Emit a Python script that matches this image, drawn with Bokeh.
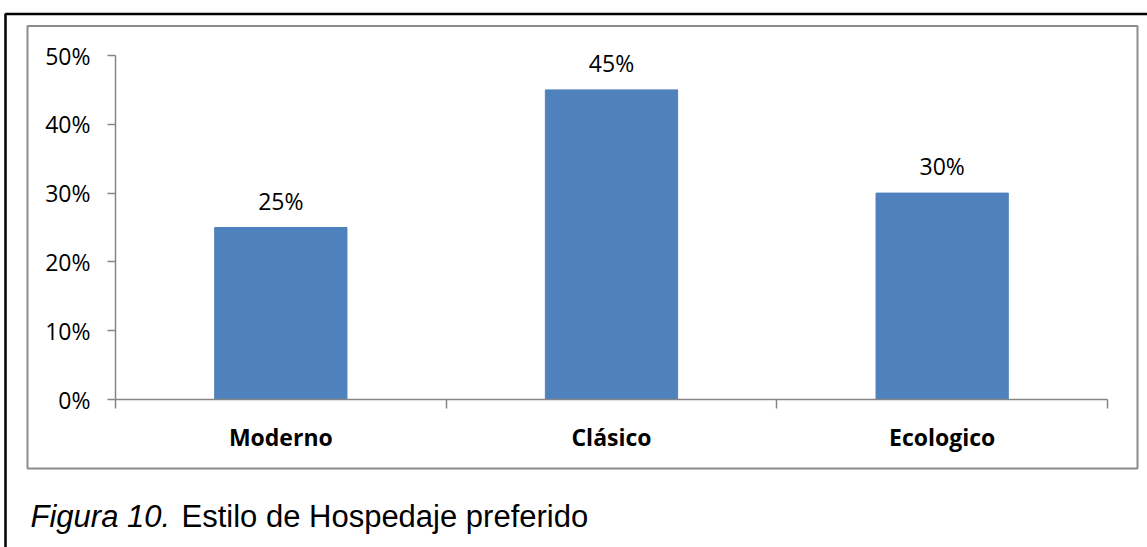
from bokeh.plotting import figure
from bokeh.models import (Range1d, LinearAxis, FixedTicker, NumeralTickFormatter,
                          CustomJSTickFormatter, ColumnDataSource, LabelSet, Label,
                          BoxAnnotation)
from bokeh.core.properties import value
from bokeh.embed import file_html
from bokeh.resources import INLINE

# Datos de la encuesta
estilos = ["Moderno", "Clásico", "Ecologico"]
porcentajes = [0.25, 0.45, 0.30]
etiquetas = ["25%", "45%", "30%"]
marcas_y = [0.0, 0.1, 0.2, 0.3, 0.4, 0.5]

AZUL = "#4F81BD"
GRIS = "#868686"
FUENTE = "Open Sans"

# Lienzo y área de trazado (px)
ANCHO, ALTO = 1147, 547
IZQ, DER, SUP, INF = 115, 1107, 55, 399

n = len(estilos)
centros = [i + 0.5 for i in range(n)]          # centro de cada categoría
ppx = (DER - IZQ) / n
ppy = (INF - SUP) / marcas_y[-1]

src = ColumnDataSource(dict(x=centros, estilo=estilos, valor=porcentajes,
                            etiqueta=etiquetas))

p = figure(width=ANCHO, height=ALTO, title=None,
           x_range=Range1d(-IZQ / ppx, n + (ANCHO - DER) / ppx),
           y_range=Range1d(-(ALTO - INF) / ppy, marcas_y[-1] + SUP / ppy),
           output_backend="svg", toolbar_location=None,
           x_axis_location=None, y_axis_location=None, min_border=0)
p.outline_line_color = None
p.background_fill_color = "white"
p.border_fill_color = "white"
p.grid.visible = False

# Marcos de la figura
p.add_layout(BoxAnnotation(left=5, right=ANCHO + 50, top=13.5, bottom=ALTO + 50,
                           left_units="canvas", right_units="canvas",
                           top_units="canvas", bottom_units="canvas",
                           fill_alpha=0, line_color="black", line_alpha=1,
                           line_width=2.5))
p.add_layout(BoxAnnotation(left=27, right=1137, top=25.5, bottom=468,
                           left_units="canvas", right_units="canvas",
                           top_units="canvas", bottom_units="canvas",
                           fill_alpha=0, line_color="#8c8c8c", line_alpha=1,
                           line_width=2))

# Eje vertical en porcentaje
eje_y = LinearAxis(fixed_location=0, bounds=(marcas_y[0], marcas_y[-1]),
                   ticker=FixedTicker(ticks=marcas_y),
                   formatter=NumeralTickFormatter(format="0%"),
                   axis_line_color=GRIS, axis_line_width=1.5,
                   major_tick_line_color=GRIS, major_tick_line_width=1.5,
                   major_tick_in=0, major_tick_out=8,
                   minor_tick_line_color=None, major_label_standoff=17,
                   major_label_text_font=FUENTE, major_label_text_font_size="23px",
                   major_label_text_color="black")
p.add_layout(eje_y, "left")

# Eje horizontal con marcas entre categorías
eje_bordes = LinearAxis(fixed_location=0, bounds=(0, n),
                        ticker=FixedTicker(ticks=list(range(n + 1))),
                        formatter=CustomJSTickFormatter(code="return ''"),
                        axis_line_color=GRIS, axis_line_width=1.5,
                        major_tick_line_color=GRIS, major_tick_line_width=1.5,
                        major_tick_in=0, major_tick_out=9,
                        minor_tick_line_color=None)
p.add_layout(eje_bordes, "below")

# Nombres de las categorías
eje_cat = LinearAxis(fixed_location=0, bounds=(0, n),
                     ticker=FixedTicker(ticks=centros),
                     formatter=CustomJSTickFormatter(args=dict(nombres=estilos),
                                                     code="return nombres[Math.floor(tick)]"),
                     axis_line_color=None, major_tick_line_color=None,
                     major_tick_in=0, major_tick_out=0,
                     minor_tick_line_color=None, major_label_standoff=21,
                     major_label_text_font=FUENTE, major_label_text_font_size="23px",
                     major_label_text_font_style="bold",
                     major_label_text_color="black")
p.add_layout(eje_cat, "below")

p.vbar(x="x", top="valor", width=0.4, source=src,
       fill_color=AZUL, line_color=AZUL)

p.add_layout(LabelSet(x="x", y="valor", text="etiqueta", source=src,
                      y_offset=27, text_align="center", text_baseline="middle",
                      text_font=value(FUENTE), text_font_size="23px",
                      text_color="black"))

# Pie de figura
p.add_layout(Label(x=30, y=516, x_units="canvas", y_units="canvas",
                   text="Figura 10.", text_font="Liberation Sans",
                   text_font_style="italic", text_font_size="31px",
                   text_baseline="alphabetic", text_color="black"))
p.add_layout(Label(x=181, y=516, x_units="canvas", y_units="canvas",
                   text="Estilo de Hospedaje preferido", text_font="Liberation Sans",
                   text_font_size="31px", text_baseline="alphabetic",
                   text_color="black"))

open("out.html", "w").write(file_html(p, INLINE))
